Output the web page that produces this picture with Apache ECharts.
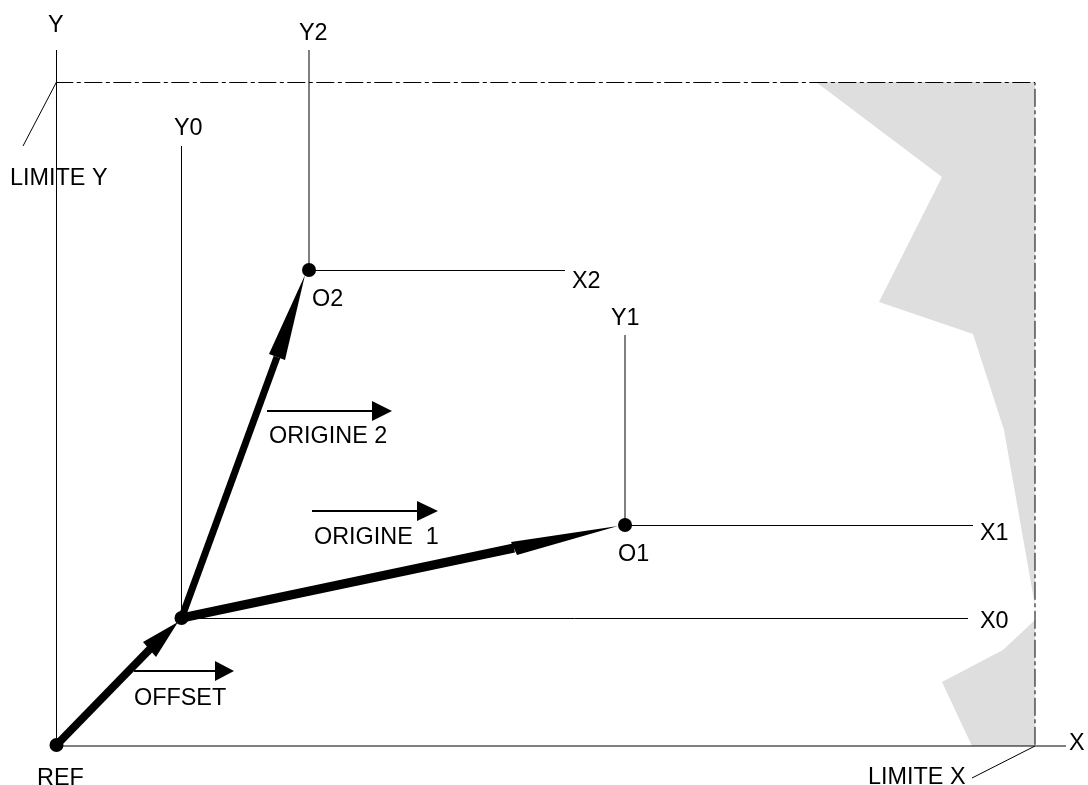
<!DOCTYPE html>
<html><head><meta charset="utf-8">
<style>html,body{margin:0;padding:0;background:#fff}#c{width:1088px;height:785px}</style>
<script src="https://cdn.jsdelivr.net/npm/echarts@6/dist/echarts.min.js"></script>
</head><body><div id="c"></div>
<script>
// Diagram values, in the diagram's own units (0..1088 across, 0..785 down)
const refPoint = [56.5, 745];
const offsetPoint = [181.5, 618];
const origin1 = [625, 525];
const origin2 = [309, 270];
const regionA = [[816,82],[942,177],[879,302],[973,334],[1004,430],[1035,606],[1035,82]];
const regionB = [[1035,620],[1003,650],[942,682],[972,746],[1035,746]];
const axisLines = [
  [[56.5,50],[56.5,746]],
  [[56,746],[1066,746]],
  [[181.5,146],[181.5,618]],
  [[181,618.5],[968,618.5]],
  [[309,50],[309,270]],
  [[309,270.5],[565,270.5]],
  [[625,335],[625,525]],
  [[625,525.5],[973,525.5]]
];
const leaderLines = [
  [[56.5,82],[23,146]],
  [[1035,746],[972,778]]
];
const limitLines = [[[57,82.5],[1035,82.5],[1035,746]]];
const thickVectors = [
  {pts:[refPoint,[150,649]], w:8},
  {pts:[offsetPoint,[277,357]], w:7},
  {pts:[offsetPoint,[514,548]], w:9}
];
const vectorHeads = [
  [[143,642],[156,657],[178,622]],
  [[269,354],[285,360],[305,275]],
  [[511,542],[517,555],[618,526]]
];
const motionLines = [
  [[134,671],[216,671]],
  [[267,411],[373,411]],
  [[312,511],[418,511]]
];
const motionHeads = [
  [[215,661],[215,681],[234,671]],
  [[372,401],[372,421],[392,411]],
  [[417,501],[417,521],[438,511]]
];
const labelNames = ['Y','Y2','Y0','LIMITE Y','X2','O2','Y1','ORIGINE 2','ORIGINE  1','O1','X1','X0','OFFSET','REF','LIMITE X','X'];
const labelLeft = [48,299,174,10,572,312,611,269,314,618,980,980,134,37,868,1069];
const labelMid = [26,34,129,179,282,300,319,437,538,555,534,622,699,779,778,744];

const lineSeries = (lines, width, color, extra) => lines.map(l => ({
  type:'line', data:l, showSymbol:false, symbol:'none', silent:true, animation:false, z:3,
  lineStyle:Object.assign({width:width,color:color,cap:'butt'},extra||{})
}));
const polySeries = (polys, color, z) => ({
  type:'custom', coordinateSystem:'cartesian2d', silent:true, animation:false, z:z,
  data:polys.map((p,i)=>[i]),
  encode:{x:[],y:[]},
  renderItem:(params,api)=>({type:'polygon',
    shape:{points:polys[api.value(0)].map(pt=>api.coord(pt))},
    style:{fill:color}})
});
const labelSeries = {
  type:'custom', coordinateSystem:'cartesian2d', silent:true, animation:false, z:6,
  data:labelNames.map((n,i)=>[labelLeft[i],labelMid[i],n]),
  renderItem:(params,api)=>{
    const p=api.coord([api.value(0),api.value(1)]);
    return {type:'text',x:p[0],y:p[1],style:{
      text:labelNames[params.dataIndex],
      font:'23.4px "Liberation Sans", Arial, sans-serif',fill:'#000',
      textAlign:'left',textVerticalAlign:'middle'}};
  }
};
const option = {
  backgroundColor:'#fff',
  grid:{left:0,right:0,top:0,bottom:0},
  xAxis:{type:'value',min:0,max:1088,show:false},
  yAxis:{type:'value',min:0,max:785,inverse:true,show:false},
  series:[
    polySeries([regionA,regionB],'#dedede',1),
    ...lineSeries(axisLines,1,'#000'),
    ...lineSeries(leaderLines,1,'#000'),
    ...lineSeries(limitLines,1,'#000',{type:[18,3.5,4,3.5],dashOffset:1.7,join:'miter'}),
    ...lineSeries(motionLines,2,'#000'),
    polySeries(motionHeads,'#000',4),
    ...thickVectors.map(v=>({type:'line',data:v.pts,showSymbol:false,symbol:'none',silent:true,animation:false,z:4,
      lineStyle:{width:v.w,color:'#000',cap:'butt'}})),
    polySeries(vectorHeads,'#000',4),
    {type:'scatter',data:[refPoint,offsetPoint,origin1,origin2],symbol:'circle',symbolSize:14,
     itemStyle:{color:'#000',opacity:1},silent:true,animation:false,z:5},
    labelSeries
  ]
};
echarts.init(document.getElementById('c'),null,{renderer:'canvas'}).setOption(option);
</script></body></html>
